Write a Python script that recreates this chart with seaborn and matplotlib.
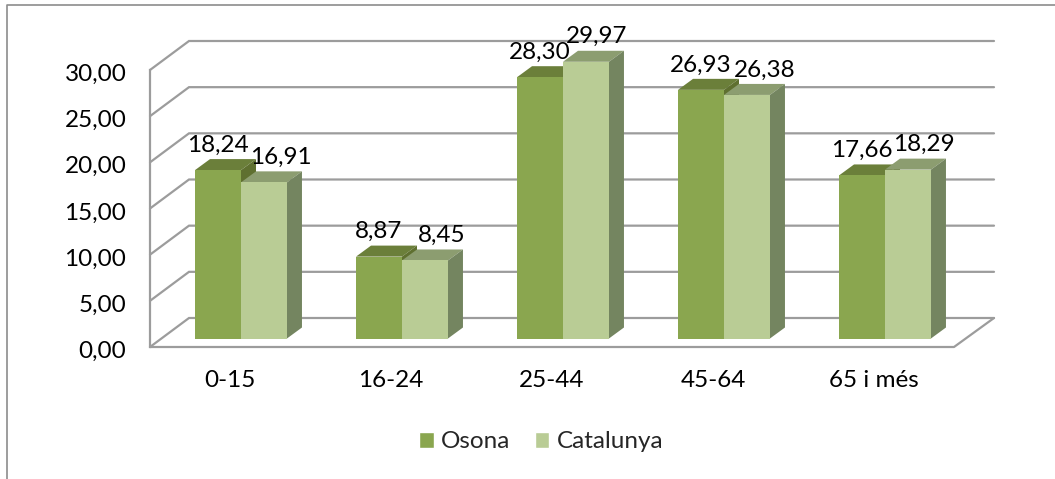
import matplotlib
matplotlib.use('Agg')
import pandas as pd
import matplotlib.pyplot as plt
import seaborn as sns
from matplotlib.lines import Line2D
from matplotlib.patches import Polygon
from matplotlib.transforms import ScaledTranslation

# data
grups = ['0-15', '16-24', '25-44', '45-64', '65 i més']
osona = [18.24, 8.87, 28.30, 26.93, 17.66]
catalunya = [16.91, 8.45, 29.97, 26.38, 18.29]
y_ticks = [0, 5, 10, 15, 20, 25, 30]

sns.set_theme(style='white')
plt.rcParams['font.family'] = ['Lato', 'DejaVu Sans']
FS = 17.5
W, H = 1055, 479
GRIS = '#9c9c9c'

df = pd.DataFrame({'grup': grups * 2,
                   'valor': osona + catalunya,
                   'serie': ['Osona'] * 5 + ['Catalunya'] * 5})


def caixa(esq, dalt, dre, baix):
    # pixel box (from top left) -> figure fraction rect
    return [esq / W, 1 - baix / H, (dre - esq) / W, (baix - dalt) / H]


fig = plt.figure(figsize=(W / 100, H / 100), dpi=100)

# outer frame of the chart, only top and left are visible
fig.add_artist(Line2D([7 / W, 7 / W, 1], [0, 1 - 5 / H, 1 - 5 / H], color='#8c8c8c', lw=1.2))

# walls and floor, x axis here is just pixels from the front corner
ax_y = fig.add_axes(caixa(150, 70, 994, 347))
ax_y.set_xlim(0, 844)
ax_y.set_ylim(0, 30)
fons = 29 / (277 / 30)
for v in y_ticks:
    ax_y.plot([0, 39, 844], [v, v + fons, v + fons], color=GRIS, lw=1.6, clip_on=False, solid_joinstyle='miter')
ax_y.plot([0, 804, 844], [0, 0, fons], color=GRIS, lw=1.6, clip_on=False)
ax_y.set_xticks([])
ax_y.set_yticks(y_ticks)
ax_y.set_yticklabels([f'{v:.2f}'.replace('.', ',') for v in y_ticks], fontsize=FS, color='black')
ax_y.tick_params(axis='y', length=0, pad=17)
for s in ['top', 'right', 'bottom']:
    ax_y.spines[s].set_visible(False)
ax_y.spines['left'].set_color(GRIS)
ax_y.spines['left'].set_linewidth(1.6)

# bars
ax = fig.add_axes(caixa(160.5, 61.5, 965.5, 338.5))
ax.patch.set_alpha(0)
sns.barplot(data=df, x='grup', y='valor', hue='serie', order=grups,
            palette={'Osona': '#8aa64f', 'Catalunya': '#b9cc95'},
            width=0.571, gap=0, saturation=1, errorbar=None, ax=ax)
ax.set_xlim(-0.5, 4.5)
ax.set_ylim(0, 30)
ax.set_xlabel('')
ax.set_ylabel('')
ax.set_yticks([])
ax.tick_params(axis='x', length=0, pad=23, labelsize=FS, labelcolor='black')
sns.despine(ax=ax, left=True, bottom=True)

# labels sit a bit off the ticks in the original
for t in ax.get_xticklabels():
    t.set_transform(t.get_transform() + ScaledTranslation(-11 / 100, 0, fig.dpi_scale_trans))
for t in ax_y.get_yticklabels():
    t.set_transform(t.get_transform() + ScaledTranslation(0, -2.5 / 100, fig.dpi_scale_trans))

# depth of the fake 3d boxes
dx = 15 / 161
dy = 11 / (277 / 30)
colors_dalt = ['#6b7f3a', '#8c9d70']
colors_costat = ['#5f7030', '#748560']
# label shift in pixels, the overlapping ones were pushed right in the original
despl = [[0, 0, 0, 0, 0], [17, 17, 11, 18, 16]]

for i, cont in enumerate(ax.containers):
    z = 3 + i
    for j, barra in enumerate(cont):
        x0 = barra.get_x()
        x1 = x0 + barra.get_width()
        h = barra.get_height()
        barra.set_zorder(z + 0.5)
        barra.set_linewidth(0)
        ax.add_patch(Polygon([(x0, h), (x1, h), (x1 + dx, h + dy), (x0 + dx, h + dy)],
                             facecolor=colors_dalt[i], lw=0, zorder=z, clip_on=False))
        ax.add_patch(Polygon([(x1, 0), (x1 + dx, dy), (x1 + dx, h + dy), (x1, h)],
                             facecolor=colors_costat[i], lw=0, zorder=z, clip_on=False))
        ax.annotate(f'{h:.2f}'.replace('.', ','), ((x0 + x1) / 2, h),
                    xytext=(despl[i][j], 25), textcoords='offset pixels',
                    ha='center', va='center', fontsize=FS, color='black', zorder=10,
                    annotation_clip=False)

sns.move_legend(ax, 'center', bbox_to_anchor=(541 / W, 1 - 442 / H), bbox_transform=fig.transFigure,
                ncol=2, frameon=False, title=None, fontsize=FS, handlelength=0.6, handleheight=0.6,
                handletextpad=0.3, columnspacing=1.0, borderpad=0)

fig.savefig('out.png', dpi=100, facecolor='white')
